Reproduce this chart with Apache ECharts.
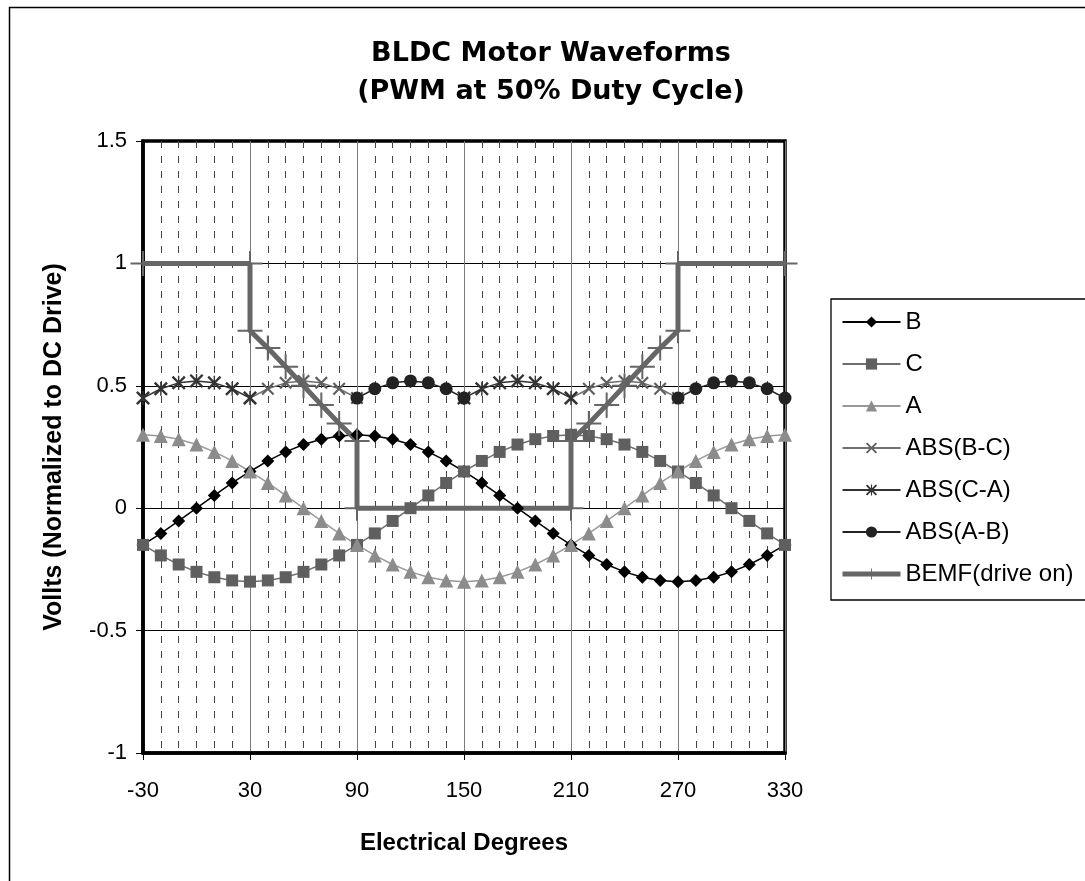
<!DOCTYPE html>
<html>
<head>
<meta charset="utf-8">
<title>BLDC Motor Waveforms</title>
<script src="https://cdn.jsdelivr.net/npm/echarts@6/dist/echarts.min.js"></script>
<style>
  html, body { margin: 0; padding: 0; background: #fff; }
  #bldc-chart { width: 1085px; height: 881px; }
</style>
</head>
<body>
<div id="bldc-chart"></div>
<script>
'use strict';
/* BLDC motor waveforms chart */

// electrical degrees, one point every 10 deg
var degrees = [-30, -20, -10, 0, 10, 20, 30, 40, 50, 60, 70, 80, 90, 100, 110, 120, 130, 140, 150,
  160, 170, 180, 190, 200, 210, 220, 230, 240, 250, 260, 270, 280, 290, 300, 310, 320, 330];

var phaseB = [-0.15, -0.103, -0.052, 0, 0.052, 0.103, 0.15, 0.193, 0.23, 0.26, 0.282, 0.295, 0.3,
  0.295, 0.282, 0.26, 0.23, 0.193, 0.15, 0.103, 0.052, 0, -0.052, -0.103, -0.15, -0.193, -0.23,
  -0.26, -0.282, -0.295, -0.3, -0.295, -0.282, -0.26, -0.23, -0.193, -0.15];

var phaseC = [-0.15, -0.193, -0.23, -0.26, -0.282, -0.295, -0.3, -0.295, -0.282, -0.26, -0.23,
  -0.193, -0.15, -0.103, -0.052, 0, 0.052, 0.103, 0.15, 0.193, 0.23, 0.26, 0.282, 0.295, 0.3,
  0.295, 0.282, 0.26, 0.23, 0.193, 0.15, 0.103, 0.052, 0, -0.052, -0.103, -0.15];

var phaseA = [0.3, 0.295, 0.282, 0.26, 0.23, 0.193, 0.15, 0.103, 0.052, 0, -0.052, -0.103, -0.15,
  -0.193, -0.23, -0.26, -0.282, -0.295, -0.3, -0.295, -0.282, -0.26, -0.23, -0.193, -0.15, -0.103,
  -0.052, 0, 0.052, 0.103, 0.15, 0.193, 0.23, 0.26, 0.282, 0.295, 0.3];

// the ABS columns only have values inside their 60 deg windows
var absBC = [null, null, null, null, null, null, 0.45, 0.488, 0.512, 0.52, 0.512, 0.488, 0.45,
  null, null, null, null, null, null, null, null, null, null, null,
  0.45, 0.488, 0.512, 0.52, 0.512, 0.488, 0.45, null, null, null, null, null, null];

var absCA = [0.45, 0.488, 0.512, 0.52, 0.512, 0.488, 0.45,
  null, null, null, null, null, null, null, null, null, null, null,
  0.45, 0.488, 0.512, 0.52, 0.512, 0.488, 0.45,
  null, null, null, null, null, null, null, null, null, null, null, null];

var absAB = [null, null, null, null, null, null, null, null, null, null, null, null,
  0.45, 0.488, 0.512, 0.52, 0.512, 0.488, 0.45,
  null, null, null, null, null, null, null, null, null, null, null,
  0.45, 0.488, 0.512, 0.52, 0.512, 0.488, 0.45];

// BEMF has vertical steps, so it keeps its own x column
var bemfDeg = [-30, 30, 30, 40, 50, 60, 70, 80, 90, 90, 210, 210, 220, 230, 240, 250, 260, 270, 270, 330];
var bemfVal = [1, 1, 0.725, 0.654, 0.578, 0.5, 0.422, 0.346, 0.275, 0, 0, 0.275, 0.346, 0.422, 0.5,
  0.578, 0.654, 0.725, 1, 1];

var seriesNames = ['B', 'C', 'A', 'ABS(B-C)', 'ABS(C-A)', 'ABS(A-B)', 'BEMF(drive on)'];

var crossPath = 'path://M12,0 L50,38 L88,0 L100,12 L62,50 L100,88 L88,100 L50,62 L12,100 L0,88 L38,50 L0,12 Z';
var starPath = crossPath + ' M45,0 L55,0 L55,100 L45,100 Z';
var plusPath = 'path://M0,46 L100,46 L100,54 L0,54 Z M46,0 L54,0 L54,100 L46,100 Z';

function pairs(xs, ys) {
  return xs.map(function(x, i) {
    return [x, ys[i]];
  });
}

function lineSeries(name, values, symbol, size, markColor, lineColor) {
  return {
    name: name,
    type: 'line',
    data: pairs(degrees, values),
    symbol: symbol,
    symbolSize: size,
    symbolKeepAspect: true,
    connectNulls: false,
    lineStyle: { color: lineColor, width: 1.5 },
    itemStyle: { color: markColor },
    emphasis: { disabled: true },
    animation: false
  };
}

// legend entries, the BEMF one keeps its thick line
var legendItems = seriesNames.map(function(name) {
  if (name === 'BEMF(drive on)') {
    return { name: name, lineStyle: { width: 5, color: '#666' } };
  }
  return { name: name };
});

var fontName = 'Liberation Sans';

var bldcChart = echarts.init(document.getElementById('bldc-chart'));
var bldcOpt = {
  backgroundColor: '#fff',
  title: {
    text: 'BLDC Motor Waveforms\n(PWM at 50% Duty Cycle)',
    left: 551,
    top: 35,
    textAlign: 'center',
    padding: 0,
    textStyle: {
      fontFamily: 'DejaVu Sans',
      fontWeight: 'bold',
      fontSize: 27,
      lineHeight: 38,
      color: '#000'
    }
  },
  legend: {
    orient: 'vertical',
    left: 831,
    top: 299,
    itemWidth: 58,
    itemHeight: 14,
    itemGap: 18,
    padding: [11, 40, 14, 9],
    borderColor: '#000',
    borderWidth: 1.3,
    textStyle: { fontFamily: fontName, fontSize: 24, lineHeight: 24, color: '#000' },
    data: legendItems
  },
  graphic: [{
    type: 'rect',
    left: 7,
    top: 5,
    silent: true,
    shape: { width: 1100, height: 900 },
    style: { fill: 'none', stroke: '#000', lineWidth: 1.5 }
  }],
  grid: {
    left: 143,
    top: 141,
    right: 300,
    bottom: 128,
    show: true,
    borderColor: '#000',
    borderWidth: 3.5
  },
  xAxis: {
    type: 'value',
    min: -30,
    max: 330,
    interval: 60,
    name: 'Electrical Degrees',
    nameLocation: 'middle',
    nameGap: 78,
    nameTextStyle: { fontFamily: fontName, fontWeight: 'bold', fontSize: 24, color: '#000' },
    axisLine: { show: true, onZero: false, lineStyle: { color: '#000', width: 3.5 } },
    axisTick: { show: true, length: 7, lineStyle: { color: '#000', width: 1 } },
    axisLabel: { fontFamily: fontName, fontSize: 22, color: '#000', margin: 27 },
    splitLine: { show: true, lineStyle: { color: '#7a7a7a', width: 1 } },
    minorTick: { show: false, splitNumber: 6 },
    minorSplitLine: { show: true, lineStyle: { color: '#444', width: 1, type: [7, 8] } }
  },
  yAxis: {
    type: 'value',
    min: -1,
    max: 1.5,
    interval: 0.5,
    name: 'Vollts (Normalized to DC Drive)',
    nameLocation: 'middle',
    nameGap: 76,
    nameTextStyle: { fontFamily: fontName, fontWeight: 'bold', fontSize: 25, color: '#000' },
    axisLine: { show: true, onZero: false, lineStyle: { color: '#000', width: 3.5 } },
    axisTick: { show: true, length: 7, lineStyle: { color: '#000', width: 1 } },
    axisLabel: { fontFamily: fontName, fontSize: 22, color: '#000', margin: 16 },
    splitLine: { show: true, lineStyle: { color: '#000', width: 1 } }
  },
  series: [
    lineSeries('B', phaseB, 'diamond', 13, '#000', '#000'),
    lineSeries('C', phaseC, 'rect', 12, '#5f5f5f', '#6e6e6e'),
    lineSeries('A', phaseA, 'triangle', 14, '#8c8c8c', '#999'),
    lineSeries('ABS(B-C)', absBC, crossPath, 13, '#606060', '#707070'),
    lineSeries('ABS(C-A)', absCA, starPath, 14, '#333', '#333'),
    lineSeries('ABS(A-B)', absAB, 'circle', 13, '#222', '#222'),
    {
      name: 'BEMF(drive on)',
      type: 'line',
      data: pairs(bemfDeg, bemfVal),
      symbol: plusPath,
      symbolSize: 25,
      lineStyle: { color: '#666', width: 5 },
      itemStyle: { color: '#666' },
      emphasis: { disabled: true },
      animation: false
    }
  ]
};

bldcChart.setOption(bldcOpt);
</script>
</body>
</html>
